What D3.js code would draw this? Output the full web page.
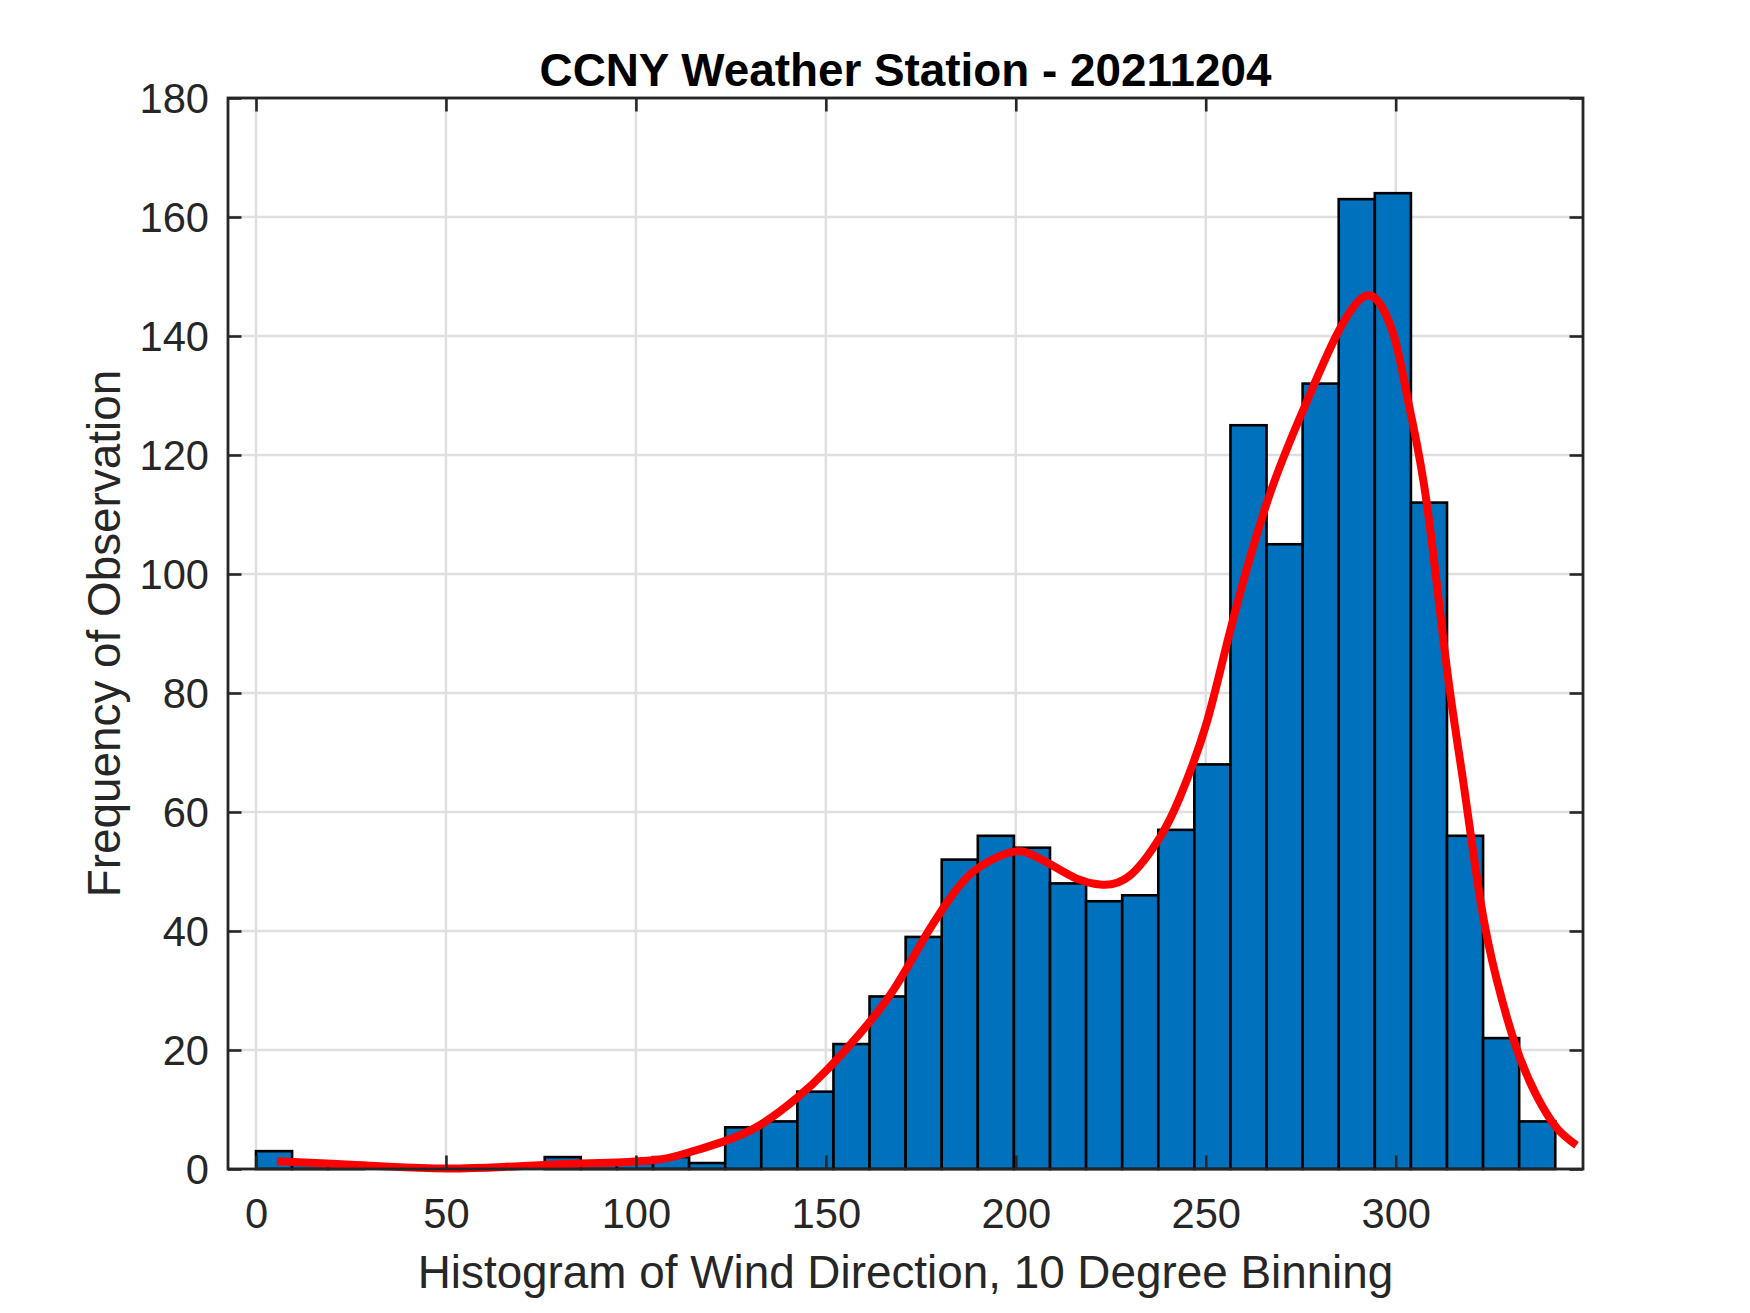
<!DOCTYPE html>
<html>
<head>
<meta charset="utf-8">
<script src="https://cdn.jsdelivr.net/npm/d3@7"></script>
<style>
  html, body { margin: 0; padding: 0; background: #ffffff; }
  svg { display: block; }
  text { font-family: "Liberation Sans", Arial, Helvetica, sans-serif; fill: #262626; }
</style>
</head>
<body>
<script>
// ---------------- data ----------------
const titleText = "CCNY Weather Station - 20211204";
const xLabelText = "Histogram of Wind Direction, 10 Degree Binning";
const yLabelText = "Frequency of Observation";

const xTicks = [0, 50, 100, 150, 200, 250, 300];
const yTicks = [0, 20, 40, 60, 80, 100, 120, 140, 160, 180];

// histogram: 36 bins spanning the data range
const binMin = 0;
const binMax = 342;
const counts = [3, 1, 1, 0, 0, 0, 0, 0, 2, 1, 1, 2, 1, 7, 8, 13, 21, 29, 39, 52, 56, 54,
                48, 45, 46, 57, 68, 125, 105, 132, 163, 164, 112, 56, 22, 8];

// fitted (kernel) density curve
const curveX = [5.5, 20, 35, 50, 65, 80, 95, 105, 111.6, 123, 132.7, 142.3, 150.2, 159, 167.8,
                175.6, 181.8, 188.8, 198.5, 204.6, 211.6, 216, 222.2, 230, 238, 243.2, 250, 256.4,
                266, 275.2, 284.4, 291.9, 296.7, 300.3, 303.8, 308.2, 313.4, 317.8, 322.2,
                326.6, 331.9, 337.1, 342.4, 347.6];
const curveY = [1.3, 0.9, 0.4, 0.1, 0.35, 0.8, 1.1, 1.5, 2.35, 4.6, 7.4, 11.9, 16.6, 22.8, 30.1,
                38.5, 44.7, 50, 53.2, 52.7, 50.3, 48.8, 47.8, 49.3, 55.8, 62.5, 74.5, 90.4,
                111.8, 126.9, 140.1, 146.7, 144.5, 138.2, 127.4, 111.8, 84.5, 65, 45.5,
                31.8, 20.1, 12.3, 6.9, 4.0];

const xDomain = [-7.37, 349.3];
const yDomain = [0, 180];

// ---------------- layout ----------------
const W = 1750, H = 1313;
const plot = { left: 228, top: 98, right: 1583, bottom: 1169 };
const axisColor = "#262626";
const gridColor = "#dfdfdf";
const barColor = "#0072BD";

const svg = d3.select("body").append("svg")
  .attr("width", W).attr("height", H)
  .attr("viewBox", `0 0 ${W} ${H}`);

svg.append("rect").attr("width", W).attr("height", H).attr("fill", "#ffffff");

const x = d3.scaleLinear().domain(xDomain).range([plot.left, plot.right]);
const y = d3.scaleLinear().domain(yDomain).range([plot.bottom, plot.top]);

// grid
const grid = svg.append("g").attr("class", "grid");
grid.selectAll("line.gx").data(xTicks).join("line")
  .attr("class", "gx")
  .attr("x1", d => x(d)).attr("x2", d => x(d))
  .attr("y1", plot.top).attr("y2", plot.bottom)
  .attr("stroke", gridColor).attr("stroke-width", 2.5);
grid.selectAll("line.gy").data(yTicks).join("line")
  .attr("class", "gy")
  .attr("x1", plot.left).attr("x2", plot.right)
  .attr("y1", d => y(d)).attr("y2", d => y(d))
  .attr("stroke", gridColor).attr("stroke-width", 2.5);

// bars
const binWidth = (binMax - binMin) / counts.length;
const bins = counts.map((c, i) => ({ x0: binMin + i * binWidth, x1: binMin + (i + 1) * binWidth, c }));
svg.append("g").attr("class", "bars")
  .selectAll("rect").data(bins.filter(b => b.c > 0)).join("rect")
  .attr("x", d => x(d.x0))
  .attr("y", d => y(d.c))
  .attr("width", d => x(d.x1) - x(d.x0))
  .attr("height", d => y(0) - y(d.c))
  .attr("fill", barColor)
  .attr("stroke", "#000000")
  .attr("stroke-width", 2.6);

// fitted curve
const pts = curveX.map((v, i) => [v, curveY[i]]);
const line = d3.line()
  .x(d => x(d[0])).y(d => y(d[1]))
  .curve(d3.curveNatural);
svg.append("path")
  .datum(pts)
  .attr("d", line)
  .attr("fill", "none")
  .attr("stroke", "#ff0000")
  .attr("stroke-width", 8)
  .attr("stroke-linejoin", "round");

// axes (box + inward ticks on all sides)
const tickLen = 13.5;
const fontTick = 41.67;
const axBottom = svg.append("g")
  .attr("transform", `translate(0,${plot.bottom})`)
  .call(d3.axisBottom(x).tickValues(xTicks).tickSizeInner(-tickLen).tickSizeOuter(0).tickPadding(0));
const axTop = svg.append("g")
  .attr("transform", `translate(0,${plot.top})`)
  .call(d3.axisTop(x).tickValues(xTicks).tickSizeInner(-tickLen).tickSizeOuter(0).tickFormat(""));
const axLeft = svg.append("g")
  .attr("transform", `translate(${plot.left},0)`)
  .call(d3.axisLeft(y).tickValues(yTicks).tickSizeInner(-tickLen).tickSizeOuter(0).tickPadding(0));
const axRight = svg.append("g")
  .attr("transform", `translate(${plot.right},0)`)
  .call(d3.axisRight(y).tickValues(yTicks).tickSizeInner(-tickLen).tickSizeOuter(0).tickFormat(""));

[axBottom, axTop, axLeft, axRight].forEach(g => {
  g.select(".domain").remove();
  g.selectAll(".tick line").attr("stroke", axisColor).attr("stroke-width", 2.6);
});

axBottom.selectAll(".tick text")
  .attr("y", 59).attr("dy", 0)
  .attr("font-size", fontTick)
  .attr("fill", axisColor)
  .style("font-family", '"Liberation Sans", Arial, sans-serif');
axLeft.selectAll(".tick text")
  .attr("x", -19).attr("dy", "0.355em")
  .attr("font-size", fontTick)
  .attr("fill", axisColor)
  .style("font-family", '"Liberation Sans", Arial, sans-serif');

// box
svg.append("rect")
  .attr("x", plot.left).attr("y", plot.top)
  .attr("width", plot.right - plot.left).attr("height", plot.bottom - plot.top)
  .attr("fill", "none").attr("stroke", axisColor).attr("stroke-width", 2.8);

// title and labels
const cx = (plot.left + plot.right) / 2;
svg.append("text")
  .attr("x", cx).attr("y", 86)
  .attr("text-anchor", "middle")
  .attr("font-size", 45.83).attr("font-weight", "bold")
  .style("fill", "#000000")
  .text(titleText);

svg.append("text")
  .attr("x", cx).attr("y", 1288)
  .attr("text-anchor", "middle")
  .attr("font-size", 45.83)
  .text(xLabelText);

svg.append("text")
  .attr("transform", `translate(120,${(plot.top + plot.bottom) / 2}) rotate(-90)`)
  .attr("text-anchor", "middle")
  .attr("font-size", 45.83)
  .text(yLabelText);
</script>
</body>
</html>
